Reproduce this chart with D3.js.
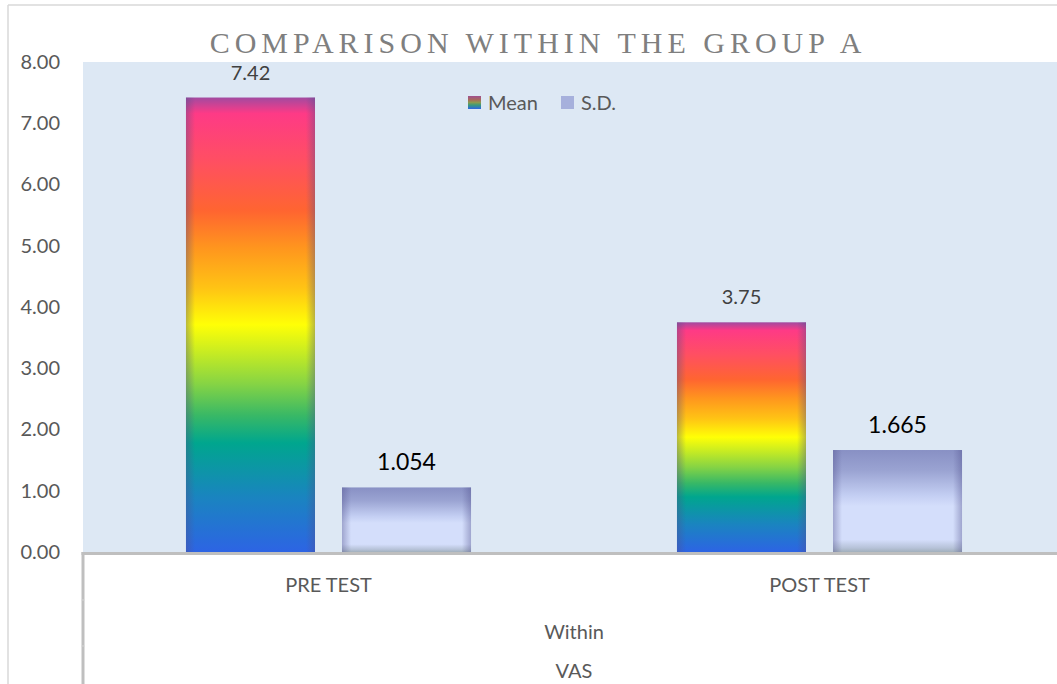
<!DOCTYPE html>
<html><head><meta charset="utf-8">
<script src="https://cdn.jsdelivr.net/npm/d3@7"></script>
<style>html,body{margin:0;padding:0;background:#fff;overflow:hidden}</style>
</head><body>
<svg id="c" width="1057" height="684"></svg>
<script>
const categories = ["PRE TEST", "POST TEST"];
const seriesNames = ["Mean", "S.D."];
const meanValues = [7.42, 3.75];
const sdValues = [1.054, 1.665];
const meanLabels = ["7.42", "3.75"];
const sdLabels = ["1.054", "1.665"];
const yTicks = [0, 1, 2, 3, 4, 5, 6, 7, 8];
const groupLabel = "Within";
const outerLabel = "VAS";
const title = "COMPARISON WITHIN THE GROUP A";

const svg = d3.select("#c");
const W = 1057, H = 684;
const plot = {left: 83, right: 1065, top: 62, bottom: 552};
const FONT = "Lato, 'Open Sans', sans-serif";

const defs = svg.append("defs");
const gm = defs.append("linearGradient").attr("id","gMean").attr("x1",0).attr("y1",0).attr("x2",0).attr("y2",1);
[[0,"#a24aa0"],[0.035,"#fe3a86"],[0.14,"#ff4f62"],[0.25,"#ff6530"],[0.33,"#ff951e"],[0.42,"#ffc414"],[0.50,"#ffff06"],[0.56,"#c8ec22"],[0.63,"#86d444"],[0.70,"#38b866"],[0.76,"#00a68e"],[0.88,"#1a84c0"],[1,"#2d64e4"]]
  .forEach(([o,c])=>gm.append("stop").attr("offset",o).attr("stop-color",c));
const gs = defs.append("linearGradient").attr("id","gSd").attr("x1",0).attr("y1",0).attr("x2",0).attr("y2",1);
[[0,"#8890c4"],[0.2,"#9aa3d2"],[0.45,"#c4cff3"],[0.55,"#d4defb"],[0.88,"#d4defb"],[0.96,"#b6c2d8"],[1,"#a2b0bc"]]
  .forEach(([o,c])=>gs.append("stop").attr("offset",o).attr("stop-color",c));
const ge = defs.append("linearGradient").attr("id","gEdge").attr("x1",0).attr("y1",0).attr("x2",1).attr("y2",0);
[[0,"rgba(80,80,140,0.4)"],[0.07,"rgba(80,80,140,0)"],[0.93,"rgba(80,80,140,0)"],[1,"rgba(80,80,140,0.4)"]]
  .forEach(([o,c])=>ge.append("stop").attr("offset",o).attr("stop-color",c));
const gl = defs.append("linearGradient").attr("id","gLegM").attr("x1",0).attr("y1",0).attr("x2",0).attr("y2",1);
[[0,"#a05090"],[0.3,"#a86a5a"],[0.5,"#8a9a50"],[0.7,"#3a9a7a"],[1,"#2d64e4"]]
  .forEach(([o,c])=>gl.append("stop").attr("offset",o).attr("stop-color",c));

// outer chart border
svg.append("line").attr("x1",8).attr("x2",W).attr("y1",5).attr("y2",5).attr("stroke","#d9d9d9").attr("stroke-width",1.5);
svg.append("line").attr("x1",8).attr("x2",8).attr("y1",5).attr("y2",H).attr("stroke","#d9d9d9").attr("stroke-width",1.5);

const y = d3.scaleLinear().domain([0,8]).range([plot.bottom, plot.top]);
const x0 = d3.scaleBand().domain(categories).range([plot.left, plot.right]).padding(0);
const x1 = d3.scaleBand().domain(seriesNames).range([0, x0.bandwidth()]).paddingInner(0.173).paddingOuter(0.66);

// plot area
svg.append("rect").attr("x",plot.left).attr("y",plot.top).attr("width",plot.right-plot.left).attr("height",plot.bottom-plot.top).attr("fill","#dde8f4");

// y axis labels
const yAxis = d3.axisLeft(y).tickValues(yTicks).tickFormat(d3.format(".2f")).tickSize(0).tickPadding(0);
const ya = svg.append("g").attr("transform","translate(60,0)").call(yAxis);
ya.select(".domain").remove();
ya.selectAll("text").attr("font-family",FONT).attr("font-size",20).attr("fill","#595959");

// bars
const data = categories.map((c,i)=>({cat:c, vals:[
  {s:"Mean", v:meanValues[i], label:meanLabels[i]},
  {s:"S.D.", v:sdValues[i], label:sdLabels[i]}]}));
const groups = svg.selectAll("g.grp").data(data).join("g").attr("class","grp")
  .attr("transform", d=>`translate(${x0(d.cat)},0)`);
groups.selectAll("rect.bar").data(d=>d.vals).join("rect").attr("class","bar")
  .attr("x", d=>x1(d.s)).attr("width", x1.bandwidth())
  .attr("y", d=>y(d.v)).attr("height", d=>y(0)-y(d.v))
  .attr("fill", d=> d.s==="Mean" ? "url(#gMean)" : "url(#gSd)");
groups.selectAll("rect.edge").data(d=>d.vals).join("rect").attr("class","edge")
  .attr("x", d=>x1(d.s)).attr("width", x1.bandwidth())
  .attr("y", d=>y(d.v)).attr("height", d=>y(0)-y(d.v))
  .attr("fill","url(#gEdge)");
groups.selectAll("text.lbl").data(d=>d.vals).join("text").attr("class","lbl")
  .attr("x", d=>x1(d.s)+x1.bandwidth()/2).attr("y", d=> y(d.v) - (d.s==="Mean" ? 18 : 17))
  .attr("text-anchor","middle")
  .attr("font-family",FONT)
  .attr("font-size", d=> d.s==="Mean" ? 20 : 23)
  .attr("fill", d=> d.s==="Mean" ? "#404040" : "#000")
  .text(d=>d.label);

// category axis lines
svg.append("line").attr("x1",plot.left-1.5).attr("x2",W).attr("y1",plot.bottom+1.5).attr("y2",plot.bottom+1.5).attr("stroke","#bfbfbf").attr("stroke-width",3);
svg.append("line").attr("x1",plot.left).attr("x2",plot.left).attr("y1",plot.bottom).attr("y2",H).attr("stroke","#bfbfbf").attr("stroke-width",3);
[600,646].forEach(yy=>svg.append("line").attr("x1",plot.left-1.5).attr("x2",plot.left+1.5).attr("y1",yy).attr("y2",yy).attr("stroke","#d4d4d4").attr("stroke-width",1));

// category labels
svg.selectAll("text.cat").data(categories).join("text").attr("class","cat")
  .attr("x", d=>x0(d)+x0.bandwidth()/2).attr("y",592)
  .attr("text-anchor","middle").attr("font-family",FONT).attr("font-size",20).attr("fill","#595959")
  .text(d=>d);
const mid = (plot.left+plot.right)/2;
svg.append("text").attr("x",mid).attr("y",639).attr("text-anchor","middle").attr("font-family",FONT).attr("font-size",20).attr("fill","#595959").text(groupLabel);
svg.append("text").attr("x",mid).attr("y",678).attr("text-anchor","middle").attr("font-family",FONT).attr("font-size",20).attr("fill","#595959").text(outerLabel);

// title
svg.append("text").attr("x",538).attr("y",53).attr("text-anchor","middle")
  .attr("font-family","'Liberation Serif', 'Times New Roman', serif").attr("font-size",30)
  .attr("letter-spacing",5).attr("fill","#7f7f7f").text(title);

// legend
const leg = svg.append("g");
const legX = [468, 561];
seriesNames.forEach((s,i)=>{
  leg.append("rect").attr("x",legX[i]).attr("y",96).attr("width",13).attr("height",13)
    .attr("fill", i===0 ? "url(#gLegM)" : "#a6b0dc");
  leg.append("text").attr("x",legX[i]+20).attr("y",110).attr("font-family",FONT).attr("font-size",20).attr("fill","#595959").text(s);
});
</script>
</body></html>
